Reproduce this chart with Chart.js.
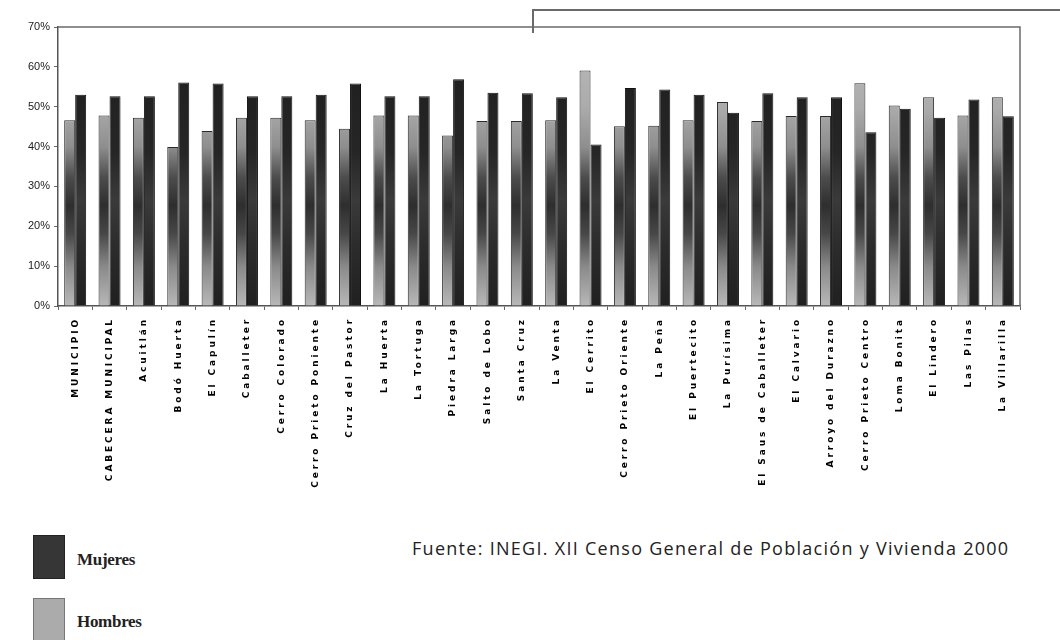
<!DOCTYPE html>
<html>
<head>
<meta charset="utf-8">
<script src="https://cdn.jsdelivr.net/npm/chart.js@4.4.1/dist/chart.umd.min.js"></script>
<style>
  body { margin: 0; background: #fff; width: 1060px; height: 640px; overflow: hidden; position: relative; }
  #wrap { position: absolute; left: 0; top: 0; width: 1060px; height: 520px; }
  .bracket { position: absolute; left: 532px; top: 9px; width: 540px; height: 22px;
    border-top: 2px solid #6a6a6a; border-left: 2px solid #6a6a6a; }
  .key { position: absolute; left: 33px; width: 32px; height: 44px; box-sizing: border-box; }
  .key.m { top: 535px; background: #363636; border: 1px solid #222; }
  .key.h { top: 598px; background: #ababab; border: 1px solid #777; height: 50px; }
  .lbl { position: absolute; left: 77px; font: bold 17px "Liberation Serif", serif; color: #222; letter-spacing: -0.3px; }
  .src { position: absolute; left: 412px; top: 536px; font: 18px "Open Sans", sans-serif; color: #222; letter-spacing: 1.28px; white-space: nowrap; }
</style>
</head>
<body>
<div id="wrap"><canvas id="myBarChart"></canvas></div>
<div class="bracket"></div>
<div class="key m"></div><div class="lbl" style="top:550px">Mujeres</div>
<div class="key h"></div><div class="lbl" style="top:612px">Hombres</div>
<div class="src">Fuente: INEGI. XII Censo General de Población y Vivienda 2000</div>
<script>
// localidades
var labels = ["MUNICIPIO", "CABECERA MUNICIPAL", "Acuitlán", "Bodó Huerta", "El Capulín",
  "Caballeter", "Cerro Colorado", "Cerro Prieto Poniente", "Cruz del Pastor", "La Huerta",
  "La Tortuga", "Piedra Larga", "Salto de Lobo", "Santa Cruz", "La Venta", "El Cerrito",
  "Cerro Prieto Oriente", "La Peña", "El Puertecito", "La Purísima", "El Saus de Caballeter",
  "El Calvario", "Arroyo del Durazno", "Cerro Prieto Centro", "Loma Bonita", "El Lindero",
  "Las Pilas", "La Villarilla"];
// % hombres / mujeres
var hombres = [46.6, 47.8, 47.2, 39.9, 43.9, 47.2, 47.2, 46.6, 44.5, 47.8,
  47.8, 42.8, 46.4, 46.4, 46.6, 59.1, 45.1, 45.2, 46.6, 51.2,
  46.4, 47.7, 47.7, 55.9, 50.3, 52.4, 47.8, 52.4];
var mujeres = [53.0, 52.6, 52.6, 56.1, 55.8, 52.6, 52.6, 53.0, 55.8, 52.6,
  52.6, 56.9, 53.5, 53.4, 52.4, 40.5, 54.7, 54.3, 53.0, 48.5,
  53.4, 52.4, 52.4, 43.6, 49.5, 47.2, 51.8, 47.6];
var yTicks = [0, 10, 20, 30, 40, 50, 60, 70];

//vertical shading like the original picture
function shade(stops) {
  return function (c) {
    var area = c.chart.chartArea;
    if (!area) return stops[0][1];
    var g = c.chart.ctx.createLinearGradient(0, area.top, 0, area.bottom);
    stops.forEach(function (s) { g.addColorStop(s[0], s[1]); });
    return g;
  };
}

var framePlugin = {
  id: "frame",
  afterLayout: function (chart) {
    var sc = chart.scales.x;
    if (sc._spaced) return;
    var orig = sc.drawLabels;
    sc.drawLabels = function (a) {
      var ctx = this.ctx;
      ctx.save();
      ctx.letterSpacing = "2.9px";
      orig.call(this, a);
      ctx.restore();
    };
    sc._spaced = true;
  },
  afterDraw: function (chart) {
    var a = chart.chartArea, ctx = chart.ctx;
    ctx.save();
    ctx.strokeStyle = "#6a6a6a";
    ctx.lineWidth = 1.5;
    ctx.beginPath();
    ctx.moveTo(a.left, a.top);
    ctx.lineTo(a.right, a.top);
    ctx.lineTo(a.right, a.bottom);
    ctx.stroke();
    ctx.restore();
  }
};

var ctx = document.getElementById("myBarChart");
var myChart = new Chart(ctx, {
  type: "bar",
  data: {
    labels: labels,
    datasets: [
      {
        label: "Hombres",
        data: hombres,
        backgroundColor: shade([[0, "#bdbdbd"], [0.29, "#ababab"], [0.43, "#8e8e8e"],
          [0.54, "#4c4c4c"], [0.64, "#2e2e2e"], [0.74, "#474747"], [0.86, "#8a8a8a"], [1, "#b8b8b8"]]),
        borderColor: "#2a2a2a",
        borderWidth: 1,
        barPercentage: 1,
        categoryPercentage: 0.64,
      },
      {
        label: "Mujeres",
        data: mujeres,
        backgroundColor: shade([[0, "#1c1c1c"], [0.45, "#262626"], [0.62, "#3a3a3a"],
          [0.78, "#2c2c2c"], [1, "#202020"]]),
        borderColor: "#111",
        borderWidth: 1,
        barPercentage: 1,
        categoryPercentage: 0.64,
      },
    ],
  },
  options: {
    responsive: true,
    maintainAspectRatio: false,
    animation: false,
    layout: { padding: { left: 0, top: 27, right: 40, bottom: 0 } },
    plugins: { legend: { display: false }, tooltip: { enabled: false } },
    scales: {
      x: {
        afterFit: function (s) { s.height = 214; },
        grid: { offset: true, drawOnChartArea: false, tickLength: 4, color: "#666" },
        border: { color: "#555", width: 1.5 },
        ticks: {
          minRotation: 90, maxRotation: 90, autoSkip: false, padding: 7,
          color: "#000", font: { family: "DejaVu Sans", weight: "bold", size: 9 },
        },
      },
      y: {
        min: 0, max: 70,
        afterFit: function (s) { s.width = 58; },
        afterBuildTicks: function (s) { s.ticks = yTicks.map(function (v) { return { value: v }; }); },
        grid: { drawOnChartArea: false, tickLength: 4, color: "#666" },
        border: { color: "#555", width: 1.5 },
        ticks: {
          padding: 4, color: "#222",
          font: { family: "Liberation Sans", size: 11 },
          callback: function (v) { return v + "%"; },
        },
      },
    },
  },
  plugins: [framePlugin],
});
</script>
</body>
</html>
